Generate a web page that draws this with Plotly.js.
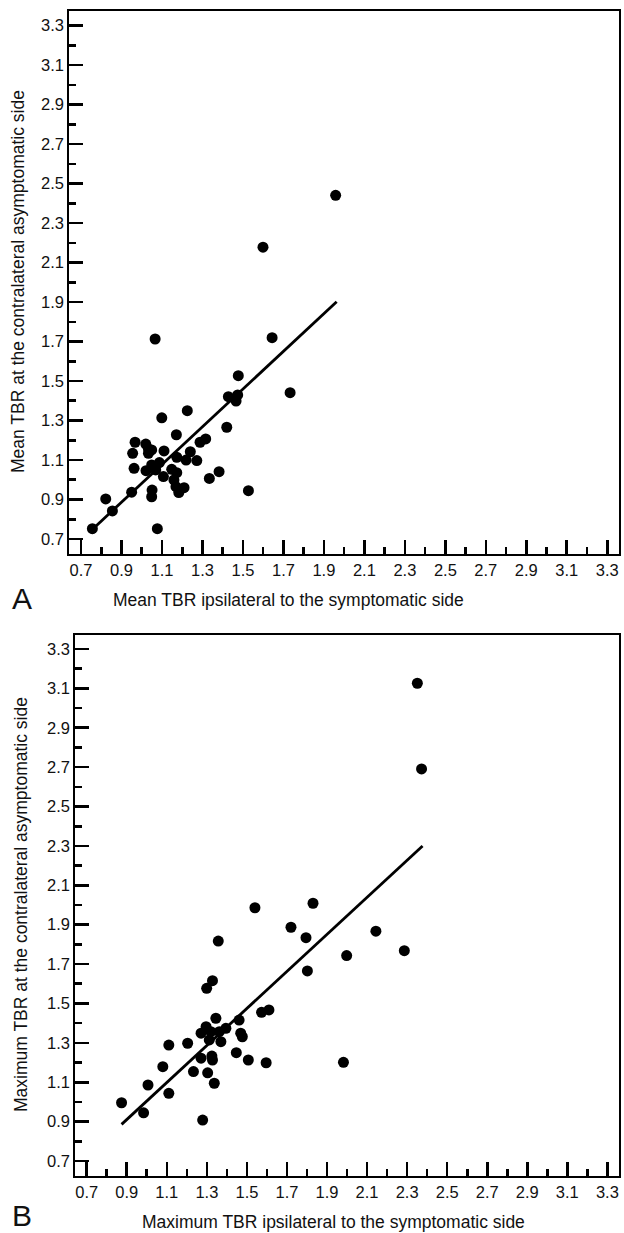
<!DOCTYPE html>
<html>
<head>
<meta charset="utf-8">
<script src="https://cdn.plot.ly/plotly-3.0.1.min.js"></script>
<style>
html,body{margin:0;padding:0;background:#fff;}
#chart{width:624px;height:1233px;}
</style>
</head>
<body>
<div id="chart"></div>
<script>
// Panel A: mean TBR
const meanIpsi = [1.066,1.644,1.477,1.733,1.428,1.474,1.466,1.225,1.099,1.42,1.171,1.316,1.288,0.967,1.02,1.033,1.049,0.955,1.033,1.11,1.24,1.173,1.219,1.272,0.962,1.021,1.049,1.087,1.069,1.107,1.148,1.173,1.159,1.169,1.183,1.209,1.382,1.334,1.527,0.95,1.051,1.049,0.822,0.855,0.756,1.077,1.958,1.599];
const meanContra = [1.713,1.72,1.527,1.441,1.421,1.43,1.399,1.35,1.314,1.266,1.228,1.207,1.19,1.19,1.181,1.156,1.151,1.134,1.134,1.146,1.142,1.114,1.1,1.097,1.058,1.046,1.075,1.087,1.05,1.016,1.053,1.036,0.999,0.965,0.935,0.96,1.041,1.007,0.945,0.937,0.948,0.914,0.903,0.842,0.752,0.752,2.441,2.178];
const meanFitX = [0.753,1.963];
const meanFitY = [0.746,1.902];

// Panel B: maximum TBR
const maxIpsi = [0.874,0.984,1.006,1.11,1.08,1.11,1.204,1.279,1.233,1.304,1.337,1.271,1.325,1.328,1.271,1.296,1.32,1.312,1.345,1.37,1.362,1.395,1.461,1.469,1.477,1.447,1.507,1.596,1.573,1.61,1.299,1.328,1.357,1.54,1.72,1.795,1.802,1.83,2.144,1.998,2.286,1.982,2.351,2.372];
const maxContra = [0.996,0.945,1.086,1.044,1.179,1.289,1.298,0.908,1.154,1.148,1.095,1.222,1.233,1.213,1.349,1.382,1.357,1.315,1.425,1.306,1.357,1.374,1.416,1.349,1.331,1.25,1.213,1.199,1.455,1.467,1.577,1.616,1.817,1.986,1.887,1.834,1.665,2.009,1.867,1.743,1.768,1.201,3.126,2.691];
const maxFitX = [0.874,2.377];
const maxFitY = [0.886,2.30];

// Axis ticks
const tickVals = [0.7,0.9,1.1,1.3,1.5,1.7,1.9,2.1,2.3,2.5,2.7,2.9,3.1,3.3];
const tickText = ['0.7','0.9','1.1','1.3','1.5','1.7','1.9','2.1','2.3','2.5','2.7','2.9','3.1','3.3'];

// Text
const titleAx = 'Mean TBR ipsilateral to the symptomatic side';
const titleAy = 'Mean TBR at the contralateral asymptomatic side';
const titleBx = 'Maximum TBR ipsilateral to the symptomatic side';
const titleBy = 'Maximum TBR at the contralateral asymptomatic side';

const FONT = 'Liberation Sans, Arial, Helvetica, sans-serif';
const W = 624, H = 1233;
const px = v => v / W;
const py = v => 1 - v / H;

function axis(domain, range, anchor) {
  return {
    domain: domain, range: range, anchor: anchor,
    tickmode: 'array', tickvals: tickVals, ticktext: tickText,
    ticks: 'inside', ticklen: 14, tickwidth: 2.6, tickcolor: '#000',
    minor: {tickmode: 'linear', tick0: 0.6, dtick: 0.1, ticks: 'inside', ticklen: 7, tickwidth: 2.6, tickcolor: '#000', showgrid: false},
    showline: true, linewidth: 2, linecolor: '#000', mirror: true,
    showgrid: false, zeroline: false, fixedrange: true,
    tickfont: {family: FONT, size: 16.5, color: '#111'}
  };
}

const dotStyle = {color: '#000', size: 11, line: {width: 0}};
const lineStyle = {color: '#000', width: 2.8};

const traces = [
  {x: meanIpsi, y: meanContra, xaxis: 'x', yaxis: 'y', mode: 'markers', type: 'scatter', marker: dotStyle, hoverinfo: 'skip'},
  {x: meanFitX, y: meanFitY, xaxis: 'x', yaxis: 'y', mode: 'lines', type: 'scatter', line: lineStyle, hoverinfo: 'skip'},
  {x: maxIpsi, y: maxContra, xaxis: 'x2', yaxis: 'y2', mode: 'markers', type: 'scatter', marker: dotStyle, hoverinfo: 'skip'},
  {x: maxFitX, y: maxFitY, xaxis: 'x2', yaxis: 'y2', mode: 'lines', type: 'scatter', line: lineStyle, hoverinfo: 'skip'}
];

const ann = (text, x, y, size, angle) => ({
  text: text, xref: 'paper', yref: 'paper', x: px(x), y: py(y),
  xanchor: 'center', yanchor: 'middle', showarrow: false, textangle: angle || 0,
  font: {family: FONT, size: size, color: '#111'}
});

const layout = {
  width: W, height: H,
  margin: {l: 0, r: 0, t: 0, b: 0},
  paper_bgcolor: '#fff', plot_bgcolor: '#fff',
  showlegend: false,
  xaxis: axis([px(69.3), px(619)], [0.642, 3.358], 'y'),
  yaxis: axis([py(554), py(10.7)], [0.624, 3.376], 'x'),
  xaxis2: axis([px(75.3), px(619)], [0.643, 3.358], 'y2'),
  yaxis2: axis([py(1176), py(635)], [0.624, 3.371], 'x2'),
  annotations: [
    ann(titleAx, 288, 600, 17.5),
    ann(titleAy, 18, 282, 17.5, -90),
    ann(titleBx, 333, 1222, 17.5),
    ann(titleBy, 21, 905, 17.5, -90),
    ann('A', 22, 598, 30),
    ann('B', 22, 1215, 30)
  ]
};

Plotly.newPlot('chart', traces, layout, {displayModeBar: false, staticPlot: true});
</script>
</body>
</html>
